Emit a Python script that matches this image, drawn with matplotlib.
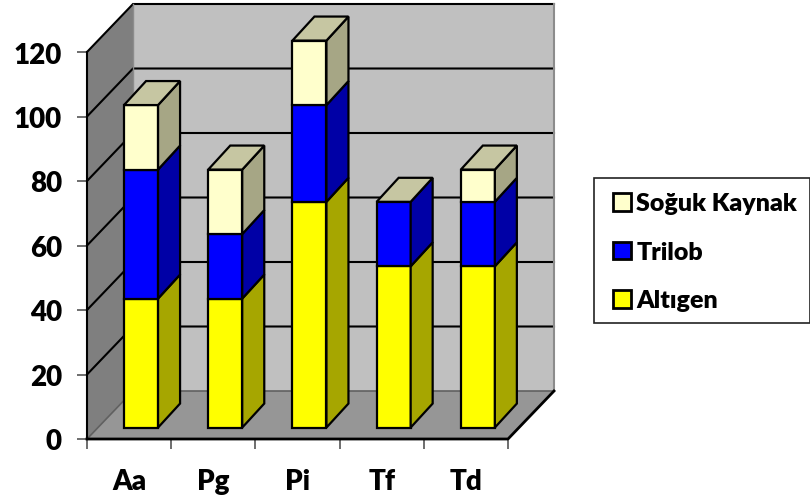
import matplotlib
matplotlib.use("Agg")
import matplotlib.pyplot as plt
from matplotlib.patches import Polygon, Patch, Rectangle

plt.rcParams['font.family'] = ['Lato', 'DejaVu Sans']
plt.rcParams['font.weight'] = 'bold'

# --- DATA ---
categories = ['Aa', 'Pg', 'Pi', 'Tf', 'Td']
altigen = [40, 40, 70, 50, 50]
trilob = [40, 20, 30, 20, 20]
soguk = [20, 20, 20, 0, 10]
y_ticks = [0, 20, 40, 60, 80, 100, 120]

series = [
    ('Altıgen', altigen, '#ffff00', '#a6a600'),
    ('Trilob', trilob, '#0000ff', '#0000a6'),
    ('Soğuk Kaynak', soguk, '#ffffcc', '#a6a685'),
]
cap_color = '#c6c6a2'

# --- LAYOUT (pixels of the reference) ---
W, H = 810, 502
fig = plt.figure(figsize=(W / 100, H / 100), dpi=100)
ax = fig.add_axes([87 / W, 1 - 440 / H, 421 / W, 387 / H])
ax.set_xlim(0, 5)
ax.set_ylim(0, 120)

# depth of the walls and of the bars, in data units
wall_dx = 46 / 84.2
wall_dy = 48 / 3.225
bar_dx = 22 / 84.2
bar_dy = 24 / 3.225
bar_left = 0.44
bar_w = 0.404
base = 3.55


def face(points, color, edge='black', lw=1.6, z=2):
    ax.add_patch(Polygon(points, closed=True, facecolor=color, edgecolor=edge,
                         linewidth=lw, zorder=z, clip_on=False, joinstyle='miter'))


# --- WALLS ---
face([(0, 0), (wall_dx, wall_dy), (wall_dx, 120 + wall_dy), (0, 120)], '#7f7f7f', edge='none', z=1)
face([(wall_dx, wall_dy), (5 + wall_dx, wall_dy), (5 + wall_dx, 120 + wall_dy), (wall_dx, 120 + wall_dy)],
     '#c0c0c0', edge='none', z=1)
face([(0, 0), (5, 0), (5 + wall_dx, wall_dy), (wall_dx, wall_dy)], '#969696', edge='none', z=1)

# --- GRID ---
for t in y_ticks[1:]:
    ax.plot([0, wall_dx, 5 + wall_dx], [t, t + wall_dy, t + wall_dy], color='black', lw=1.5,
            zorder=1.5, clip_on=False, solid_joinstyle='miter')
ax.plot([0, wall_dx, 5 + wall_dx], [0, wall_dy, wall_dy], color='#606060', lw=1.2, zorder=1.5, clip_on=False)
ax.plot([wall_dx, wall_dx], [wall_dy, 120 + wall_dy], color='#8c8c8c', lw=1, zorder=1.5, clip_on=False)
ax.plot([5 + wall_dx, 5 + wall_dx], [wall_dy, 120 + wall_dy], color='#8c8c8c', lw=1.5, zorder=1.5, clip_on=False)
ax.plot([0, 5, 5 + wall_dx], [0, 0, wall_dy], color='black', lw=2, zorder=1.6, clip_on=False)
ax.plot([0, 0], [0, 120], color='black', lw=1.5, zorder=1.6, clip_on=False)

# --- BARS ---
for i in range(len(categories)):
    x0 = i + bar_left
    x1 = x0 + bar_w
    bottom = base
    for name, values, front, side in series:
        v = values[i]
        if v == 0:
            continue
        ax.bar(x0, v, width=bar_w, bottom=bottom, align='edge', color=front,
               edgecolor='black', linewidth=1.6, zorder=3, clip_on=False)
        face([(x1, bottom), (x1 + bar_dx, bottom + bar_dy), (x1 + bar_dx, bottom + v + bar_dy), (x1, bottom + v)],
             side, z=3)
        bottom += v
    face([(x0, bottom), (x1, bottom), (x1 + bar_dx, bottom + bar_dy), (x0 + bar_dx, bottom + bar_dy)],
         cap_color, z=3)

# --- AXES ---
for s in ax.spines.values():
    s.set_visible(False)
ax.patch.set_alpha(0)
ax.set_yticks(y_ticks)
ax.set_yticklabels([str(t) for t in y_ticks], fontsize=20, fontweight='heavy')
ax.tick_params(axis='y', length=7, width=1.2, color='#555555', pad=11)
ax.set_xticks(range(6))
ax.set_xticklabels([])
ax.tick_params(axis='x', which='major', length=7, width=1.2, color='#555555')
ax.set_xticks([i + 0.5 for i in range(5)], minor=True)
ax.set_xticklabels(categories, minor=True, fontsize=20, fontweight='heavy')
ax.tick_params(axis='x', which='minor', length=0, pad=21)

# --- LEGEND ---
fig.add_artist(Rectangle((594 / W, 1 - 324 / H), 216 / W, 145 / H, transform=fig.transFigure,
                         facecolor='white', edgecolor='#222222', linewidth=1.2, clip_on=False))
handles = [Patch(facecolor=s[2], edgecolor='black', linewidth=2) for s in reversed(series)]
labels = [s[0] for s in reversed(series)]
leg = fig.legend(handles, labels, loc='center left',
                 bbox_to_anchor=(613 / W, 1 - 253 / H),
                 prop={'size': 18, 'weight': 'heavy'}, frameon=False,
                 handlelength=0.7, handleheight=0.7, handletextpad=0.24,
                 labelspacing=1.06, borderpad=0, borderaxespad=0)

fig.savefig('out.png', dpi=100)
